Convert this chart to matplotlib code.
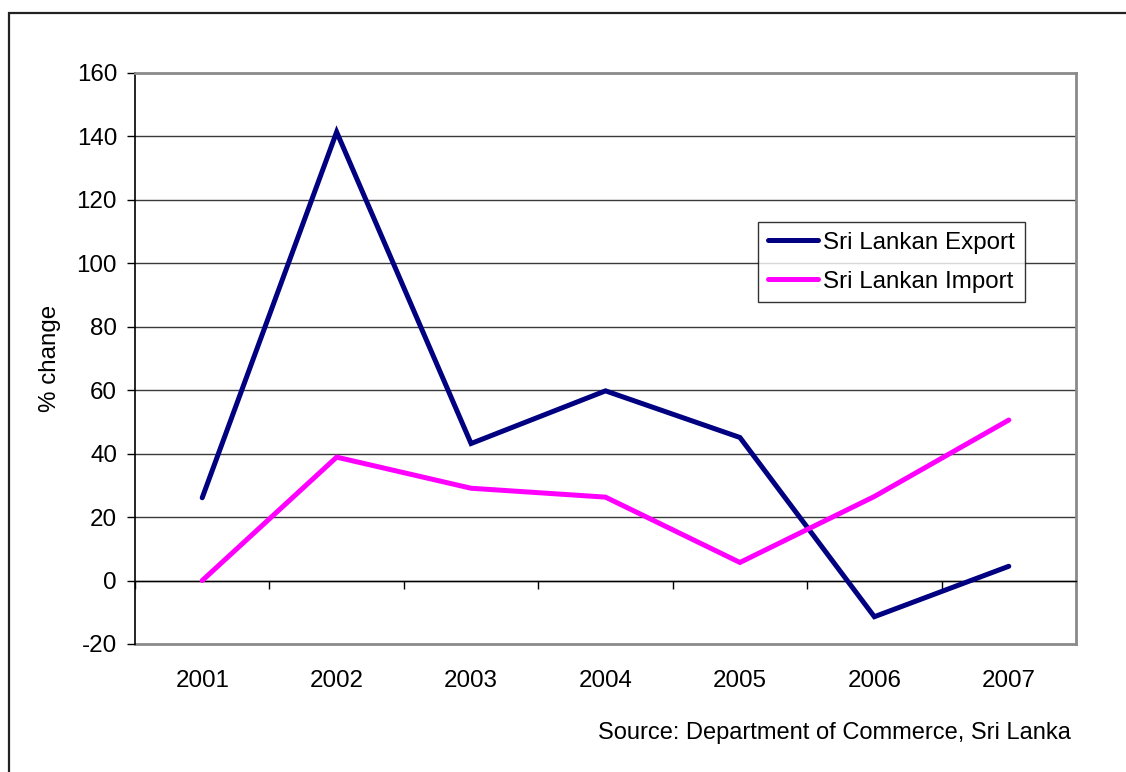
import matplotlib
matplotlib.use("Agg")
import matplotlib.pyplot as plt
from matplotlib.patches import Rectangle

years = ["2001", "2002", "2003", "2004", "2005", "2006", "2007"]
export_change = [26.1, 141.4, 43.2, 59.8, 45.1, -11.4, 4.5]
import_change = [0.0, 38.9, 29.1, 26.3, 5.7, 26.5, 50.6]
y_ticks = [-20, 0, 20, 40, 60, 80, 100, 120, 140, 160]

plt.rcParams["font.family"] = ["Liberation Sans", "DejaVu Sans"]
plt.rcParams["axes.unicode_minus"] = False
FS = 17.4

fig = plt.figure(figsize=(11.26, 7.72), dpi=100)
ax = fig.add_axes([135 / 1126, 1 - 644 / 772, (1076 - 135) / 1126, (644 - 73) / 772])

# outer chart frame (only top and left edges fall inside the canvas)
fig.add_artist(Rectangle((9 / 1126, -0.2), 1.5, 1.2 - 13 / 772,
                         transform=fig.transFigure, fill=False,
                         edgecolor="#222222", linewidth=1.6))

x = list(range(len(years)))
ax.plot(x, export_change, color="#000080", linewidth=3.6,
        solid_capstyle="round", solid_joinstyle="miter", label="Sri Lankan Export", zorder=3)
ax.plot(x, import_change, color="#FF00FF", linewidth=3.6,
        solid_capstyle="round", solid_joinstyle="miter", label="Sri Lankan Import", zorder=3)

ax.set_xlim(-0.5, len(years) - 0.5)
ax.set_ylim(y_ticks[0], y_ticks[-1])
ax.set_yticks(y_ticks)
ax.tick_params(axis="y", direction="out", length=6, width=1, pad=7, labelsize=FS, colors="black")
for v in y_ticks[1:-1]:
    ax.axhline(v, color="#3a3a3a", linewidth=1.0, zorder=1)

# category axis crossing at zero, with tick marks between categories
ax.spines["bottom"].set_position(("data", 0))
ax.spines["bottom"].set_color("black")
ax.spines["bottom"].set_linewidth(1.0)
ax.set_xticks([i + 0.5 for i in range(-1, len(years))])
ax.set_xticklabels([])
ax.tick_params(axis="x", direction="out", length=6, width=1, colors="black")

ax.spines["left"].set_color("black")
ax.spines["left"].set_linewidth(1.2)
for s in ("top", "right"):
    ax.spines[s].set_color("#8a8a8a")
    ax.spines[s].set_linewidth(2.0)

# year labels along the bottom of the plot area
sec = ax.secondary_xaxis("bottom")
sec.set_xticks(x)
sec.set_xticklabels(years)
sec.tick_params(axis="x", length=0, pad=19, labelsize=FS)
sec.spines["bottom"].set_color("#8a8a8a")
sec.spines["bottom"].set_linewidth(2.0)

ax.set_ylabel("% change", fontsize=FS, labelpad=11)

leg = ax.legend(loc="upper left", bbox_to_anchor=((758 - 135) / 941, (644 - 222) / 571),
                fontsize=FS, frameon=True, fancybox=False, shadow=False,
                handlelength=2.1, handletextpad=0.2, labelspacing=0.7,
                borderpad=0.4, borderaxespad=0.0)
leg.get_frame().set_edgecolor("black")
leg.get_frame().set_linewidth(1.0)

fig.text(1071 / 1126, 1 - 733 / 772, "Source: Department of Commerce, Sri Lanka",
         ha="right", va="center", fontsize=17.0)

fig.savefig("out.png", dpi=100, facecolor="white")
